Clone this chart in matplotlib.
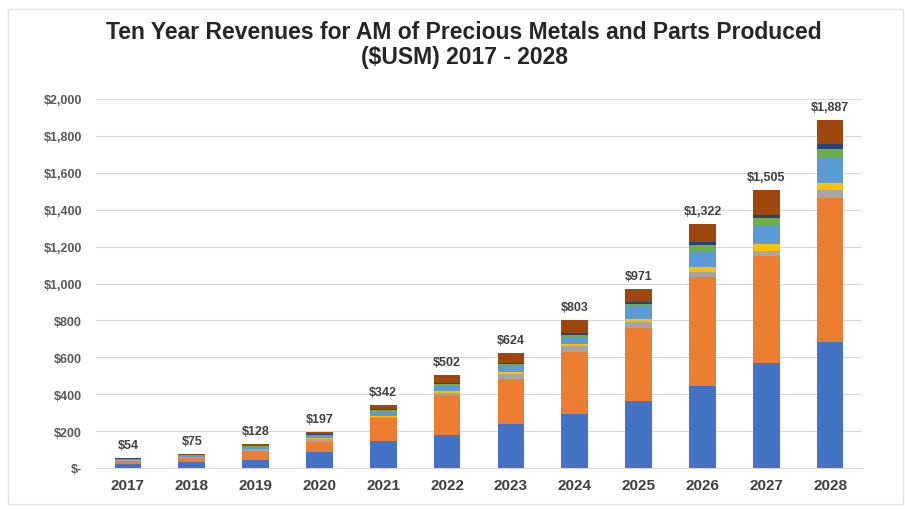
import matplotlib
matplotlib.use('Agg')
import matplotlib.pyplot as plt
import numpy as np

years = ['2017', '2018', '2019', '2020', '2021', '2022',
         '2023', '2024', '2025', '2026', '2027', '2028']
totals = [54, 75, 128, 197, 342, 502, 624, 803, 971, 1322, 1505, 1887]

# stacked segments, bottom to top (values in $USM)
seg_blue = [24, 32, 46, 87, 146, 179, 238, 293, 363, 444, 569, 683]
seg_orange = [16, 22, 46, 55, 123, 216, 245, 336, 396, 591, 580, 780]
seg_gray = [4, 6, 10, 14, 10, 14, 26, 30, 33, 27, 27, 45]
seg_yellow = [2, 2, 3, 5, 5, 8, 12, 13, 16, 27, 38, 38]
seg_lightblue = [3, 5, 8, 12, 22, 26, 30, 35, 71, 87, 103, 135]
seg_green = [2, 2, 4, 6, 9, 10, 11, 14, 11, 33, 38, 49]
seg_navy = [1, 2, 3, 4, 6, 7, 8, 8, 11, 16, 16, 27]
seg_brown = [2, 4, 8, 14, 21, 42, 54, 74, 70, 97, 134, 130]

segments = [seg_blue, seg_orange, seg_gray, seg_yellow,
            seg_lightblue, seg_green, seg_navy, seg_brown]
colors = ['#4472C4', '#ED7D31', '#A5A5A5', '#FFC000',
          '#5B9BD5', '#70AD47', '#264478', '#9E480E']

plt.rcParams['font.family'] = ['Liberation Sans', 'DejaVu Sans']

fig = plt.figure(figsize=(9.05, 5.10), dpi=100)
W, H = 905, 510
ax = fig.add_axes([96 / W, (H - 469) / H, (862 - 96) / W, (469 - 100) / H])

x = np.arange(len(years))
bottom = np.zeros(len(years))
for vals, c in zip(segments, colors):
    ax.bar(x, vals, 0.42, bottom=bottom, color=c, zorder=3)
    bottom += np.array(vals)

for xi, t in zip(x, totals):
    ax.annotate('${:,}'.format(t), (xi, bottom[xi]), xytext=(0, 5),
                textcoords='offset points', ha='center', va='bottom',
                fontsize=9, fontweight='bold', color='#404040')

ax.set_xlim(-0.5, len(years) - 0.5)
ax.set_ylim(0, 2000)
ax.set_yticks(np.arange(0, 2001, 200))
ax.set_yticklabels(['$-'] + ['${:,}'.format(v) for v in range(200, 2001, 200)])
ax.set_xticks(x)
ax.set_xticklabels(years)
ax.grid(axis='y', color='#d9d9d9', linewidth=0.8, zorder=0)
for s in ['top', 'right', 'left']:
    ax.spines[s].set_visible(False)
ax.spines['bottom'].set_color('#d9d9d9')
ax.tick_params(axis='both', length=0)
ax.tick_params(axis='y', pad=10, labelsize=9, labelcolor='#595959')
ax.tick_params(axis='x', pad=7, labelsize=11, labelcolor='#404040')
for lab in ax.get_yticklabels() + ax.get_xticklabels():
    lab.set_fontweight('bold')

fig.text(464 / W, 1 - 45 / H,
         'Ten Year Revenues for AM of Precious Metals and Parts Produced\n($USM) 2017 - 2028',
         ha='center', va='center', fontsize=16.5, fontweight='bold',
         color='#262626', linespacing=1.15)

# faint frame around the chart
frame = plt.Rectangle((8 / W, 1 - 505 / H), (903 - 8) / W, (505 - 10) / H,
                      transform=fig.transFigure, fill=False,
                      edgecolor='#e3e3e3', linewidth=1)
fig.patches.append(frame)

plt.savefig('out.png', dpi=100)
